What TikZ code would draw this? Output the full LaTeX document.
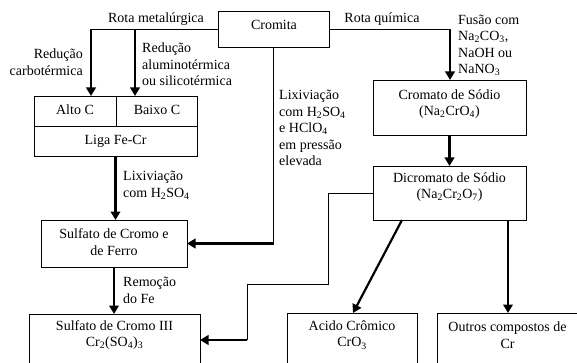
\documentclass[tikz,border=0pt]{standalone}
\usepackage{fontspec}
\setmainfont{Liberation Serif}
\usetikzlibrary{arrows.meta,calc}
\begin{document}
\begin{tikzpicture}[x=1pt,y=-1pt,
  box/.style={draw, line width=0.9pt, inner sep=0pt, outer sep=0pt},
  txt/.style={inner sep=0pt, align=center, font=\fontsize{14}{16.5}\selectfont},
  lbl/.style={txt, align=left, anchor=west},
  lblr/.style={txt, align=right, anchor=east},
  ln/.style={line width=0.9pt},
  arr/.style={line width=2.2pt, -{Triangle[width=9.5pt,length=8.5pt]}}]
\useasboundingbox (0,0) rectangle (577,363);
\clip (0,0) rectangle (577,363);
% boxes
\node[box, minimum width=111pt, minimum height=36pt] (cromita) at (273.5,29) {};
\node[txt] at (274,25) {Cromita};
\node[box, minimum width=82pt, minimum height=30pt] (alto) at (75,111) {};
\node[txt] at (75,110) {Alto C};
\node[box, minimum width=81pt, minimum height=30pt] (baixo) at (156.5,111) {};
\node[txt] at (157,110) {Baixo C};
\node[box, minimum width=163pt, minimum height=30pt] (liga) at (115.5,141) {};
\node[txt] at (115.5,141) {Liga Fe-Cr};
\node[box, minimum width=146pt, minimum height=47pt] (sulfFe) at (114,243.5) {};
\node[txt] at (114,242) {Sulfato de Cromo e\\de Ferro};
\node[box, minimum width=171pt, minimum height=52pt] (sulf3) at (114.5,340) {};
\node[txt] at (114.5,335) {Sulfato de Cromo III\\Cr\textsubscript{2}(SO\textsubscript{4})\textsubscript{3}};
\node[box, minimum width=153pt, minimum height=55pt] (cromato) at (449.5,107.5) {};
\node[txt] at (449.5,104) {Cromato de Sódio\\(Na\textsubscript{2}CrO\textsubscript{4})};
\node[box, minimum width=153pt, minimum height=54pt] (dicro) at (449.5,193) {};
\node[txt] at (449.5,187) {Dicromato de Sódio\\(Na\textsubscript{2}Cr\textsubscript{2}O\textsubscript{7})};
\node[box, minimum width=130pt, minimum height=53pt] (acido) at (352,339.5) {};
\node[txt] at (352,335) {Acido Crômico\\CrO\textsubscript{3}};
\node[box, minimum width=154pt, minimum height=53pt] (outros) at (514,339.5) {};
\node[txt] at (507.5,335) {Outros compostos de\\Cr};
% coordinates
\coordinate (m1) at (91,29);
\coordinate (m2) at (135,29);
\coordinate (q1) at (450,29);
\coordinate (c3) at (cromita.south |- sulfFe.east);
\coordinate (d1) at (328,193);
\coordinate (d2) at (328,284);
\coordinate (d3) at (247,284);
\coordinate (d4) at (247,340);
\coordinate (a1) at (402,220);
\coordinate (a2) at (353,313);
\coordinate (o1) at (508,220);
% connectors
\draw[ln] (cromita.west) -- (m1);
\draw[arr] (m1) -- (m1 |- alto.north);
\draw[arr] (m2) -- (m2 |- baixo.north);
\draw[ln] (cromita.east) -- (q1);
\draw[arr] (q1) -- (q1 |- cromato.north);
\draw[arr] (cromato.south) -- (dicro.north);
\draw[arr] (liga.south) -- (liga.south |- sulfFe.north);
\draw[arr] (sulfFe.south) -- (sulfFe.south |- sulf3.north);
\draw[ln] (cromita.south) -- (c3);
\draw[arr] (c3) -- (sulfFe.east);
\draw[ln] (dicro.west) -- (d1) -- (d2) -- (d3) -- (d4);
\draw[arr] (d4) -- (sulf3.east);
\draw[arr] (a1) -- (a2);
\draw[arr] (o1) -- (o1 |- outros.north);
% labels
\node[txt] at (156,19) {Rota metalúrgica};
\node[txt] at (382,19) {Rota química};
\node[lblr] at (83,62) {Redução\\carbotérmica};
\node[lbl] at (142,64.5) {Redução\\aluminotérmica\\ou silicotérmica};
\node[lbl] at (123,185.5) {Lixiviação\\com H\textsubscript{2}SO\textsubscript{4}};
\node[lbl] at (123,290.5) {Remoção\\do Fe};
\node[lbl] at (279,128) {Lixiviação\\com H\textsubscript{2}SO\textsubscript{4}\\e HClO\textsubscript{4}\\em pressão\\elevada};
\node[lbl] at (458,45.5) {Fusão com\\Na\textsubscript{2}CO\textsubscript{3},\\NaOH ou\\NaNO\textsubscript{3}};
\end{tikzpicture}
\end{document}
